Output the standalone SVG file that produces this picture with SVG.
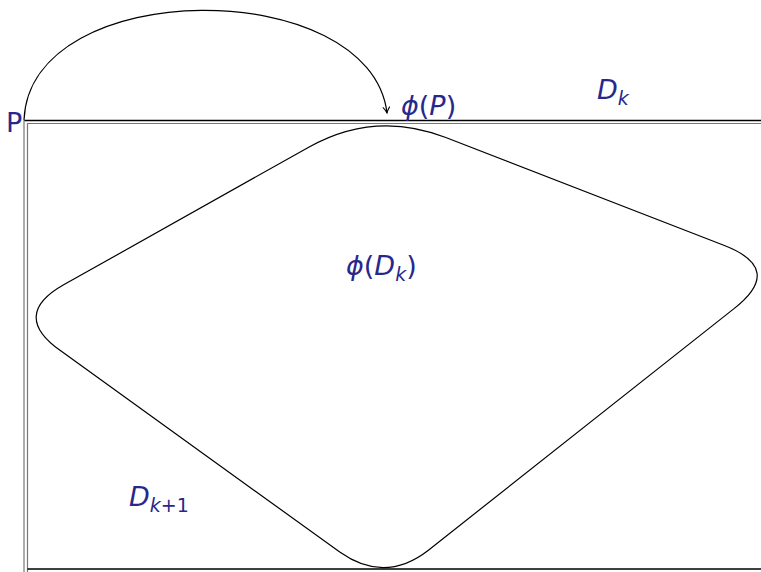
<svg xmlns="http://www.w3.org/2000/svg" width="761" height="572" viewBox="0 0 761 572">
<style>
.t{font-family:"DejaVu Sans","Liberation Sans",sans-serif;fill:#28288c;font-size:27px}
.i{font-style:italic}
.s{font-size:19px}
.ln{fill:none;stroke:#000;stroke-width:1.2}
</style>
<defs>
<marker id="arr" markerWidth="10" markerHeight="10" refX="7" refY="5" orient="auto" markerUnits="userSpaceOnUse">
<path d="M1,1.5 Q4,4 7,5 Q4,6 1,8.5" fill="none" stroke="#000" stroke-width="1"/>
</marker>
</defs>
<g id="Dk">
<path d="M24,572 V120.5 H761" fill="none" stroke="#777" stroke-width="1.2"/>
<path d="M24.5,120.5 H761" fill="none" stroke="#000" stroke-width="1.5"/>
<path d="M27.5,572 V123.5 H761" fill="none" stroke="#777" stroke-width="1.2"/>
<path d="M27.5,569 H761" fill="none" stroke="#000" stroke-width="1.5"/>
<text class="t i" x="597" y="99">D<tspan class="s" dy="6">k</tspan></text>
</g>
<g id="phiDk">
<path class="ln" d="M308.7,147.2 Q375,110 445.8,137.5 L724.4,245.5 Q785,269 733.7,308.9 L428.4,550.2 Q385,584 340.1,552.3 L60.7,350.8 Q10,315 64.1,284.6 Z"/>
<text class="t" x="346" y="275"><tspan class="i">ϕ</tspan>(<tspan class="i">D</tspan><tspan class="s i" dy="6">k</tspan><tspan dy="-6">)</tspan></text>
</g>
<g id="Dk1">
<text class="t i" x="129" y="506">D<tspan class="s" dy="6">k<tspan font-style="normal">+1</tspan></tspan></text>
</g>
<g id="P">
<text class="t" x="6" y="132">P</text>
</g>
<g id="phiP">
<text class="t" x="401" y="115"><tspan class="i">ϕ</tspan>(<tspan class="i">P</tspan>)</text>
</g>
<g id="connectors">
<path class="ln" d="M24,120 C30,-25 370,-25 387,113" marker-end="url(#arr)"/>
</g>
</svg>
